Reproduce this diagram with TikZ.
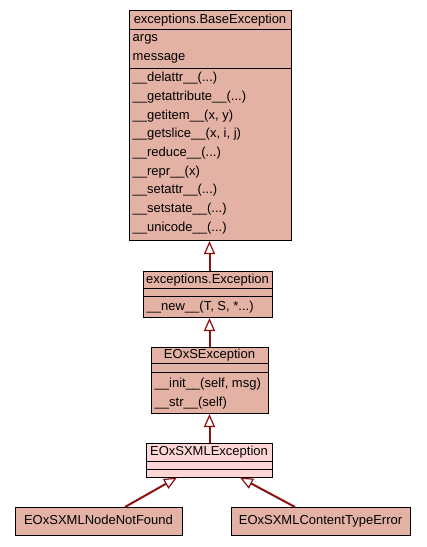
\documentclass[tikz,border=0pt]{standalone}
\usepackage{fontspec}
\setmainfont{Liberation Sans}
\usetikzlibrary{arrows.meta}
\definecolor{clsfill}{RGB}{228,178,164}
\definecolor{leaffill}{RGB}{255,214,214}
\definecolor{edgecol}{RGB}{139,17,17}
\begin{document}
\begin{tikzpicture}[x=1pt,y=-1pt,
  cls/.style={draw=black, line width=1pt, fill=clsfill, inner sep=0pt, anchor=north west},
  sep/.style={draw=black, line width=1pt},
  label/.style={inner sep=0pt, text height=9.8pt, text depth=2.6pt, font=\fontsize{13}{15}\selectfont},
  member/.style={label, anchor=west},
  inherit/.style={draw=edgecol, line width=2pt,
    -{Triangle[open, length=13pt, width=11pt, line width=1.2pt, fill=white]}}]

\fill[white] (0,0) rectangle (427,547);
\useasboundingbox (0,0) rectangle (427,547);

% exceptions.BaseException
\node[cls, minimum width=162pt, minimum height=230pt] (base) at (129,10) {};
\draw[sep] (129,29) -- (291,29);
\draw[sep] (129,68) -- (291,68);
\node[label] (baseT) at (210,19.5) {exceptions.BaseException};
\node[member] (bA1) at (132.5,38.3) {args};
\node[member] (bA2) at (132.5,57.3) {message};
\node[member] (bM1) at (132.5,78.0) {\_\_delattr\_\_(...)};
\node[member] (bM2) at (132.5,96.7) {\_\_getattribute\_\_(...)};
\node[member] (bM3) at (132.5,115.4) {\_\_getitem\_\_(x, y)};
\node[member] (bM4) at (132.5,134.1) {\_\_getslice\_\_(x, i, j)};
\node[member] (bM5) at (132.5,152.8) {\_\_reduce\_\_(...)};
\node[member] (bM6) at (132.5,171.5) {\_\_repr\_\_(x)};
\node[member] (bM7) at (132.5,190.2) {\_\_setattr\_\_(...)};
\node[member] (bM8) at (132.5,208.9) {\_\_setstate\_\_(...)};
\node[member] (bM9) at (132.5,227.6) {\_\_unicode\_\_(...)};

% exceptions.Exception
\node[cls, minimum width=129pt, minimum height=46pt] (exc) at (143,271) {};
\draw[sep] (143,288) -- (272,288);
\draw[sep] (143,296) -- (272,296);
\node[label] (excT) at (207.5,279.5) {exceptions.Exception};
\node[member] (eM1) at (146.5,306.5) {\_\_new\_\_(T, S, *...)};

% EOxSException
\node[cls, minimum width=117pt, minimum height=66pt] (eoxs) at (151,347) {};
\draw[sep] (151,363) -- (268,363);
\draw[sep] (151,372) -- (268,372);
\node[label] (eoxsT) at (209.5,355) {EOxSException};
\node[member] (sM1) at (154.5,384) {\_\_init\_\_(self, msg)};
\node[member] (sM2) at (154.5,402.5) {\_\_str\_\_(self)};

% EOxSXMLException
\node[cls, fill=leaffill, minimum width=126pt, minimum height=34pt] (xml) at (146,443) {};
\draw[sep] (146,461.5) -- (272,461.5);
\draw[sep] (146,469.5) -- (272,469.5);
\node[label] (xmlT) at (209,452) {EOxSXMLException};

% leaf classes
\node[cls, minimum width=167pt, minimum height=28pt] (nnf) at (15,507) {};
\node[label] (nnfT) at (98.5,521) {EOxSXMLNodeNotFound};
\node[cls, minimum width=179pt, minimum height=28pt] (cte) at (231,507) {};
\node[label] (cteT) at (320.5,521) {EOxSXMLContentTypeError};

% inheritance edges
\coordinate (nnfTop) at (125,507);
\coordinate (xmlL) at (177,477.5);
\coordinate (cteTop) at (295,507);
\coordinate (xmlR) at (240,477.5);
\draw[inherit] (exc.north -| 209.5,0) -- (base.south -| 209.5,0);
\draw[inherit] (eoxs.north -| 209.5,0) -- (exc.south -| 209.5,0);
\draw[inherit] (xml.north -| 209.5,0) -- (eoxs.south -| 209.5,0);
\draw[inherit] (nnfTop) -- (xmlL);
\draw[inherit] (cteTop) -- (xmlR);
\end{tikzpicture}
\end{document}
